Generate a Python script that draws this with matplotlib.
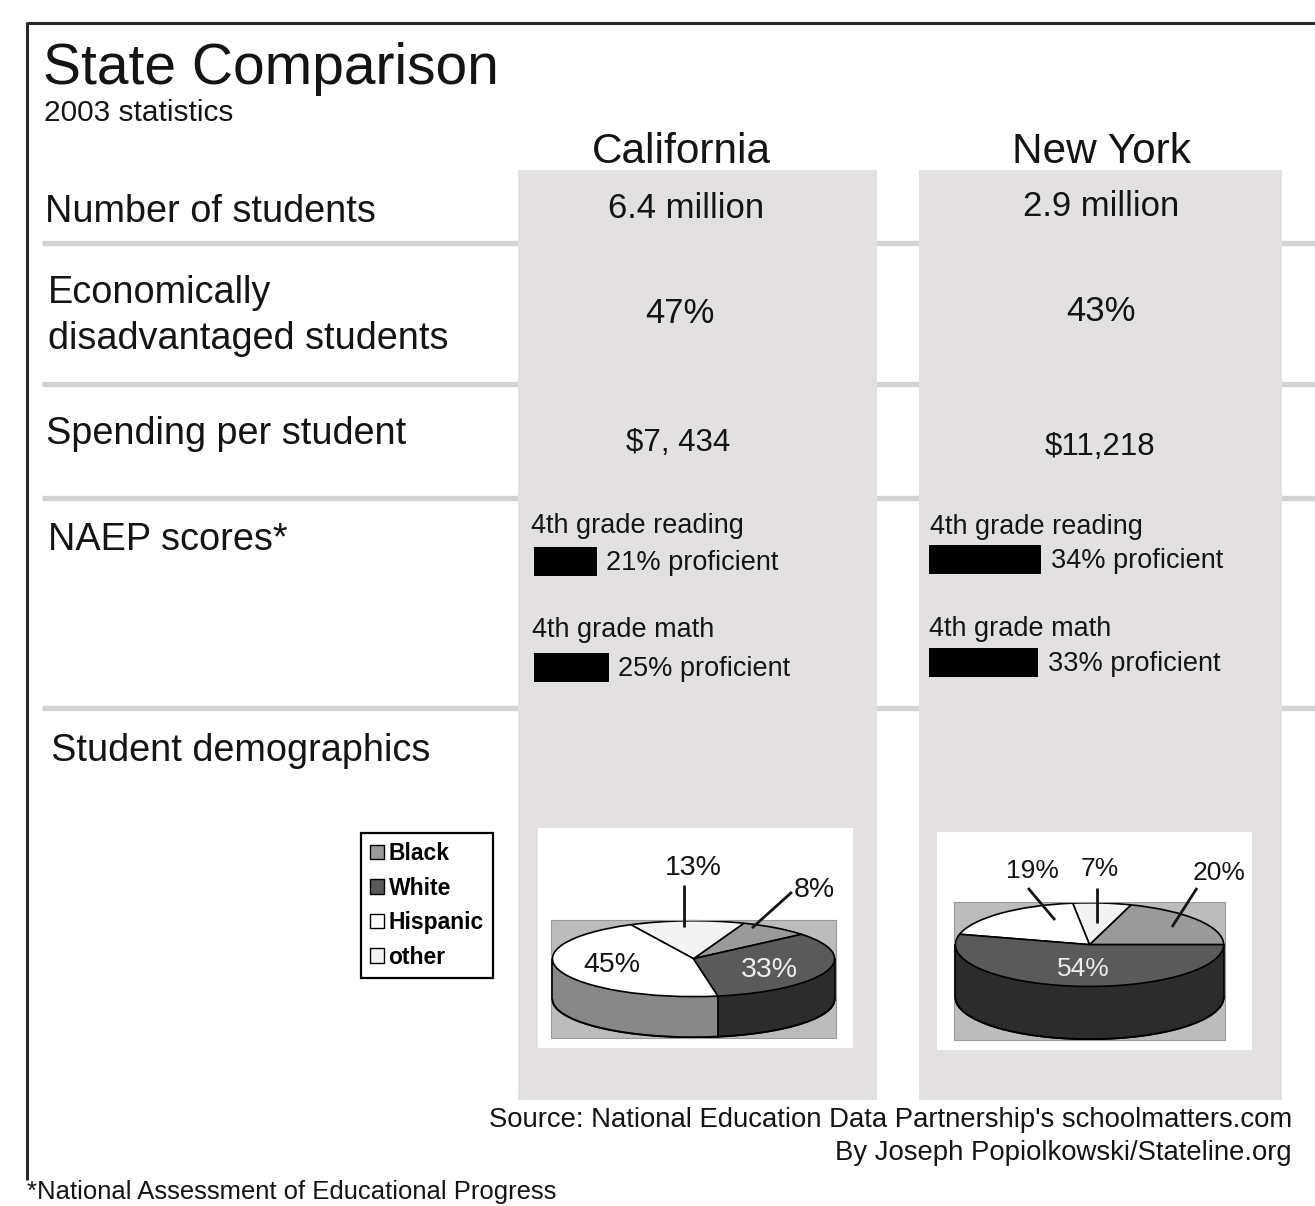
import numpy as np
import matplotlib
matplotlib.use("Agg")
import matplotlib.pyplot as plt
from matplotlib.patches import Rectangle, Patch, Arc
from matplotlib.lines import Line2D
from matplotlib.transforms import Affine2D

# ---------------- data ----------------
title = "State Comparison"
subtitle = "2003 statistics"
states = ["California", "New York"]
num_students = ["6.4 million", "2.9 million"]
econ_disadv = [47, 43]
spending = ["$7, 434", "$11,218"]
naep_tests = ["4th grade reading", "4th grade math"]
naep_ca = [21, 25]
naep_ny = [34, 33]
groups = ["Black", "White", "Hispanic", "other"]
demo_ca = [8, 33, 45, 13]
demo_ny = [20, 54, 19, 7]
row_labels = ["Number of students", "Economically\ndisadvantaged students",
              "Spending per student", "NAEP scores*", "Student demographics"]
source_lines = ["Source: National Education Data Partnership's schoolmatters.com",
                "By Joseph Popiolkowski/Stateline.org"]
footnote = "*National Assessment of Educational Progress"

# ---------------- style ----------------
W, H = 1315, 1206
FONT = ["Liberation Sans", "DejaVu Sans"]
NARROW = ["Liberation Sans Narrow", "Liberation Sans", "DejaVu Sans"]
plt.rcParams["font.family"] = FONT
TXT = "#141414"
COL_BG = "#e2e0e1"
SEP = "#d3d3d3"
top_colors = {"Black": "#9a9a9a", "White": "#5a5a5a", "Hispanic": "#ffffff", "other": "#f3f3f3"}
side_colors = {"Black": "#6c6c6c", "White": "#2c2c2c", "Hispanic": "#888888", "other": "#a0a0a0"}

fig = plt.figure(figsize=(W / 100, H / 100), dpi=100)
fig.patch.set_facecolor("white")
px = Affine2D().scale(1 / W, -1 / H).translate(0, 1) + fig.transFigure


def ftext(x, y, s, size, ha="left", va="baseline", color=TXT, family=FONT, **kw):
    return fig.text(x, y, s, transform=px, fontsize=size, ha=ha, va=va,
                    color=color, family=family, **kw)


def frect(x0, y0, x1, y1, fc, ec="none", lw=0, z=-5):
    fig.add_artist(Rectangle((x0, y1), x1 - x0, y0 - y1, transform=px,
                             facecolor=fc, edgecolor=ec, linewidth=lw, zorder=z))


def fline(xs, ys, color=TXT, lw=1.5, z=5):
    fig.add_artist(Line2D(xs, ys, transform=px, color=color, linewidth=lw,
                          zorder=z, solid_capstyle="butt"))


def ax_px(x0, y0, x1, y1):
    return fig.add_axes([x0 / W, 1 - y1 / H, (x1 - x0) / W, (y1 - y0) / H])


# border
fline([27, 1315], [23, 23], color="#2a2a2a", lw=2.2, z=-2)
fline([27, 27], [22, 1180], color="#2a2a2a", lw=2.2, z=-2)

# separators (behind columns)
for y in [243, 384, 498, 708]:
    fline([42, 1315], [y, y], color=SEP, lw=3.8, z=-8)

# state columns
col_x = [(518, 877), (919, 1282)]
for x0, x1 in col_x:
    frect(x0, 170, x1, 1100, COL_BG, z=-6)

# title
ftext(43, 84, title, 41)
ftext(44, 121, subtitle, 21.5)

# row labels
ftext(45, 222, row_labels[0], 27.3)
ftext(48, 303, row_labels[1].split("\n")[0], 27.3)
ftext(48, 349, row_labels[1].split("\n")[1], 27.3)
ftext(46, 444, row_labels[2], 27.3)
ftext(48, 550, row_labels[3], 27.3)
ftext(51, 761, row_labels[4], 27.3)

# headers and values
head_cx = [681, 1102]
for i, st in enumerate(states):
    ftext(head_cx[i], 163, st, 30.5, ha="center")
ftext(686, 218, num_students[0], 25, ha="center")
ftext(1101, 216, num_students[1], 25, ha="center")
ftext(680, 323, f"{econ_disadv[0]}%", 25, ha="center")
ftext(1101, 321, f"{econ_disadv[1]}%", 25, ha="center")
ftext(678, 451, spending[0], 22.5, ha="center")
ftext(1100, 455, spending[1], 22.5, ha="center")

# NAEP bars
naep = [naep_ca, naep_ny]
bar_axes = [(533.5, 508.5, 533.5 + 300, 720.5), (929, 507.25, 929 + 330, 714.25)]
bar_h = [29 / 106, 29 / 103.5]
label_pos = [[(531, 533), (532, 637)], [(930, 534), (929, 636)]]
for k in range(2):
    ax = ax_px(*bar_axes[k])
    ypos = np.arange(len(naep_tests))
    ax.barh(ypos, naep[k], height=bar_h[k], color="black", left=0)
    ax.set_xlim(0, 100)
    ax.set_ylim(1.5, -0.5)
    ax.axis("off")
    for i, v in enumerate(naep[k]):
        ax.annotate(f"{v}% proficient", xy=(v, i), xytext=(7.2, -6.2),
                    textcoords="offset points", ha="left", va="baseline",
                    fontsize=19.5, color=TXT)
    for i, t in enumerate(naep_tests):
        ftext(label_pos[k][i][0], label_pos[k][i][1], t, 19.5)

# pie white boxes
frect(538, 828, 853, 1048, "white", z=-4)
frect(937, 832, 1252, 1050, "white", z=-4)


def pie3d(box, vals, start, depth_u):
    ax = ax_px(*box)
    order = ["Black", "other", "Hispanic", "White"]
    v = [vals[groups.index(g)] for g in order]
    tc = [top_colors[g] for g in order]
    sc = [side_colors[g] for g in order]
    # bottom with outline
    ax.pie(v, colors=sc, startangle=start, center=(0, -depth_u),
           wedgeprops=dict(linewidth=1.2, edgecolor="black"))
    for dy in np.linspace(-depth_u, 0, 70)[1:]:
        ax.pie(v, colors=sc, startangle=start, center=(0, dy),
               wedgeprops=dict(linewidth=0, antialiased=True))
    ax.pie(v, colors=tc, startangle=start, center=(0, 0),
           wedgeprops=dict(linewidth=1.2, edgecolor="black"))
    ax.add_patch(Arc((0, -depth_u), 2, 2, theta1=180, theta2=360,
                     color="black", lw=1.4, zorder=10))
    # silhouette and front boundaries
    for xs in (-1, 1):
        ax.plot([xs, xs], [0, -depth_u], color="black", lw=1.2, zorder=10)
    cum = np.cumsum([0] + v) / sum(v)
    for c in cum[:-1]:
        th = np.deg2rad(start + 360 * c)
        if np.sin(th) < -0.05:
            x, y = np.cos(th), np.sin(th)
            ax.plot([x, x], [y, y - depth_u], color="black", lw=1.2, zorder=10)
    ax.set_aspect("auto")
    ax.set_xlim(-1.01, 1.01)
    ax.set_ylim(-1 - depth_u - 0.02, 1.02)
    ax.set_frame_on(True)
    ax.set_facecolor("#bcbcbc")
    for s in ax.spines.values():
        s.set_color("#9a9a9a")
        s.set_linewidth(0.8)
    ax.set_xticks([])
    ax.set_yticks([])
    return ax


pie3d((551, 920, 836, 1038), demo_ca, 40, 1.07)
pie3d((954, 902, 1225, 1040), demo_ny, 0, 1.26)

# pie labels (CA)
def plabel(x, y, s, size, color=TXT, family=FONT):
    ftext(x, y, s, size, ha="center", va="center", color=color, family=family)

plabel(693, 868, f"{demo_ca[3]}%", 20.5)
plabel(814, 890, f"{demo_ca[0]}%", 20.5)
plabel(612, 965, f"{demo_ca[2]}%", 20.5)
plabel(769, 970, f"{demo_ca[1]}%", 20.5, color="#eeeeee")
fline([684, 684], [885, 927], lw=2)
fline([792, 752], [892, 928], lw=2)
# pie labels (NY)
plabel(1032, 871, f"{demo_ny[2]}%", 19, family=NARROW)
plabel(1100, 869, f"{demo_ny[3]}%", 19, family=NARROW)
plabel(1219, 873, f"{demo_ny[0]}%", 19, family=NARROW)
plabel(1083, 969, f"{demo_ny[1]}%", 19, color="#eeeeee", family=NARROW)
fline([1028, 1055], [888, 920], lw=2)
fline([1097, 1097], [888, 923], lw=2)
fline([1197, 1172], [888, 927], lw=2)

# legend
handles = [Patch(facecolor=top_colors[g], edgecolor="black", linewidth=1.0) for g in groups]
leg = fig.legend(handles, groups, loc="upper left",
                 bbox_to_anchor=(361 / W, 1 - 833 / H), frameon=True,
                 fancybox=False, framealpha=1, edgecolor="black",
                 prop=dict(family=FONT, size=16.5, weight="bold"),
                 handlelength=0.6, handleheight=0.6, handletextpad=0.2,
                 borderpad=0.4, labelspacing=0.5, borderaxespad=0)
leg.get_frame().set_linewidth(1.6)

# source & footnote, fitted to reference widths
fig.canvas.draw()
r = fig.canvas.get_renderer()

def fit_text(x, y, s, target_w, ha):
    t = ftext(x, y, s, 20, ha=ha, family=NARROW)
    w = t.get_window_extent(renderer=r).width
    t.set_fontsize(20 * target_w / w)
    return t

fit_text(1292, 1127, source_lines[0], 802, "right")
fit_text(1292, 1160, source_lines[1], 456, "right")
fit_text(27, 1199, footnote, 526, "left")

fig.savefig("out.png", dpi=100)
